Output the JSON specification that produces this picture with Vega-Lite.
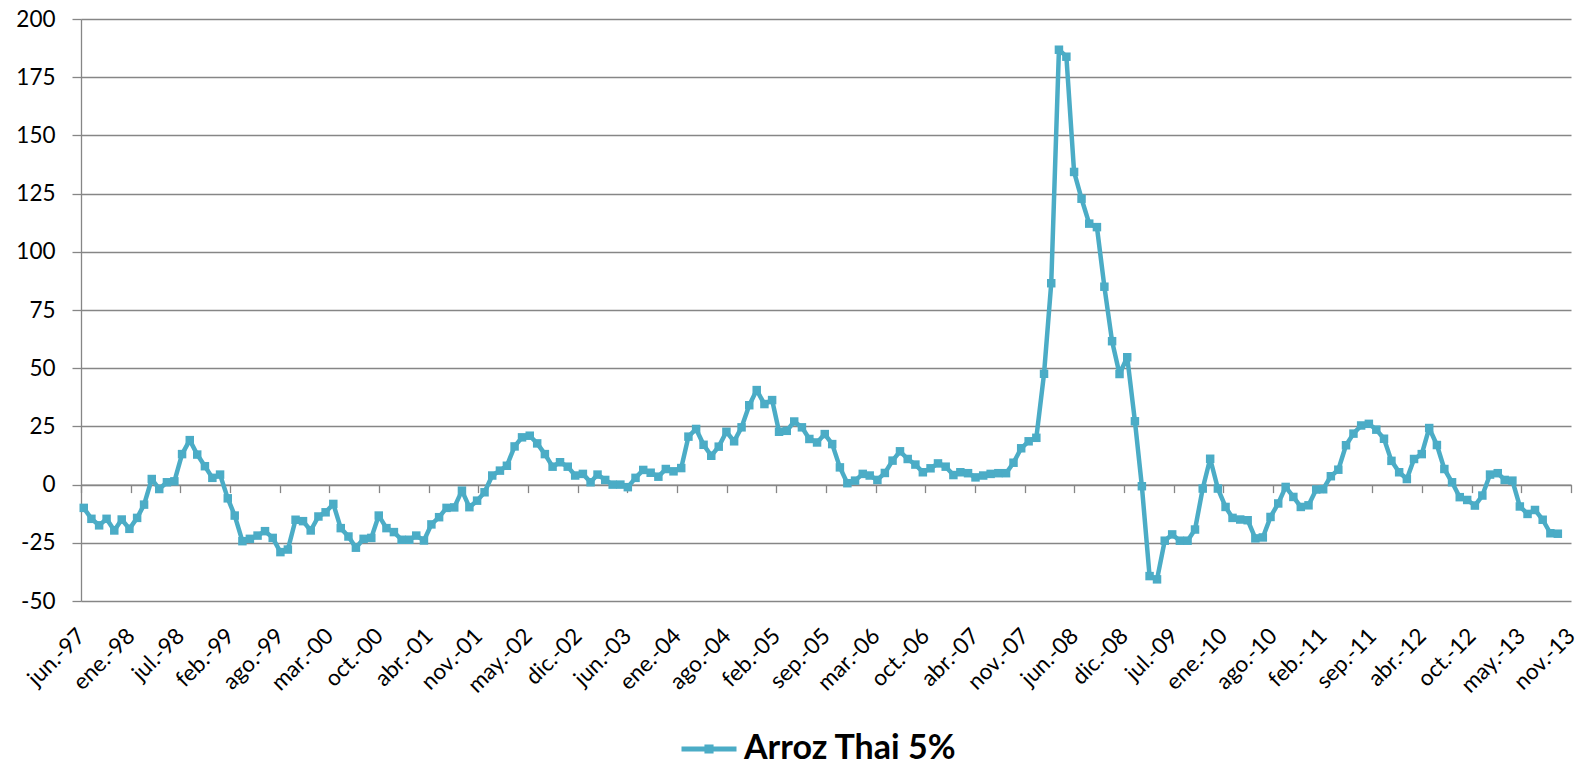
{
  "$schema": "https://vega.github.io/schema/vega-lite/v6.json",
  "width": 1490,
  "height": 582,
  "autosize": {"type": "none"},
  "padding": {"left": 81, "top": 19, "right": 14, "bottom": 168},
  "background": "white",
  "config": {"view": {"stroke": null}, "font": "Lato"},
  "data": {"values": [
    {"d":"1997-07-01","v":-10.0},{"d":"1997-08-01","v":-14.7},{"d":"1997-09-01","v":-17.5},{"d":"1997-10-01","v":-14.7},{"d":"1997-11-01","v":-19.7},{"d":"1997-12-01","v":-15.0},
    {"d":"1998-01-01","v":-19.0},{"d":"1998-02-01","v":-14.3},{"d":"1998-03-01","v":-8.6},{"d":"1998-04-01","v":2.4},{"d":"1998-05-01","v":-1.9},{"d":"1998-06-01","v":1.0},{"d":"1998-07-01","v":1.4},{"d":"1998-08-01","v":13.1},{"d":"1998-09-01","v":19.1},{"d":"1998-10-01","v":12.9},{"d":"1998-11-01","v":7.9},{"d":"1998-12-01","v":2.9},
    {"d":"1999-01-01","v":4.3},{"d":"1999-02-01","v":-5.9},{"d":"1999-03-01","v":-13.3},{"d":"1999-04-01","v":-24.3},{"d":"1999-05-01","v":-23.3},{"d":"1999-06-01","v":-21.9},{"d":"1999-07-01","v":-20.0},{"d":"1999-08-01","v":-22.9},{"d":"1999-09-01","v":-29.0},{"d":"1999-10-01","v":-27.9},{"d":"1999-11-01","v":-15.1},{"d":"1999-12-01","v":-15.7},
    {"d":"2000-01-01","v":-19.7},{"d":"2000-02-01","v":-13.7},{"d":"2000-03-01","v":-11.9},{"d":"2000-04-01","v":-8.3},{"d":"2000-05-01","v":-18.7},{"d":"2000-06-01","v":-22.3},{"d":"2000-07-01","v":-27.1},{"d":"2000-08-01","v":-23.3},{"d":"2000-09-01","v":-22.9},{"d":"2000-10-01","v":-13.3},{"d":"2000-11-01","v":-18.7},{"d":"2000-12-01","v":-20.4},
    {"d":"2001-01-01","v":-23.7},{"d":"2001-02-01","v":-23.7},{"d":"2001-03-01","v":-21.9},{"d":"2001-04-01","v":-24.0},{"d":"2001-05-01","v":-17.1},{"d":"2001-06-01","v":-14.0},{"d":"2001-07-01","v":-10.0},{"d":"2001-08-01","v":-9.8},{"d":"2001-09-01","v":-2.6},{"d":"2001-10-01","v":-9.7},{"d":"2001-11-01","v":-6.9},{"d":"2001-12-01","v":-3.3},
    {"d":"2002-01-01","v":3.9},{"d":"2002-02-01","v":6.0},{"d":"2002-03-01","v":8.1},{"d":"2002-04-01","v":16.4},{"d":"2002-05-01","v":20.3},{"d":"2002-06-01","v":21.0},{"d":"2002-07-01","v":17.7},{"d":"2002-08-01","v":13.1},{"d":"2002-09-01","v":7.7},{"d":"2002-10-01","v":9.6},{"d":"2002-11-01","v":7.7},{"d":"2002-12-01","v":3.9},
    {"d":"2003-01-01","v":4.6},{"d":"2003-02-01","v":1.0},{"d":"2003-03-01","v":4.3},{"d":"2003-04-01","v":2.0},{"d":"2003-05-01","v":0.0},{"d":"2003-06-01","v":0.0},{"d":"2003-07-01","v":-1.1},{"d":"2003-08-01","v":2.9},{"d":"2003-09-01","v":6.3},{"d":"2003-10-01","v":5.1},{"d":"2003-11-01","v":3.4},{"d":"2003-12-01","v":6.7},
    {"d":"2004-01-01","v":5.7},{"d":"2004-02-01","v":7.1},{"d":"2004-03-01","v":20.6},{"d":"2004-04-01","v":23.9},{"d":"2004-05-01","v":17.1},{"d":"2004-06-01","v":12.4},{"d":"2004-07-01","v":16.3},{"d":"2004-08-01","v":22.7},{"d":"2004-09-01","v":18.6},{"d":"2004-10-01","v":24.6},{"d":"2004-11-01","v":34.1},{"d":"2004-12-01","v":40.6},
    {"d":"2005-01-01","v":34.6},{"d":"2005-02-01","v":36.3},{"d":"2005-03-01","v":22.7},{"d":"2005-04-01","v":23.1},{"d":"2005-05-01","v":27.1},{"d":"2005-06-01","v":24.6},{"d":"2005-07-01","v":19.6},{"d":"2005-08-01","v":18.1},{"d":"2005-09-01","v":21.7},{"d":"2005-10-01","v":17.4},{"d":"2005-11-01","v":7.4},{"d":"2005-12-01","v":0.6},
    {"d":"2006-01-01","v":1.7},{"d":"2006-02-01","v":4.6},{"d":"2006-03-01","v":3.9},{"d":"2006-04-01","v":2.0},{"d":"2006-05-01","v":5.0},{"d":"2006-06-01","v":10.3},{"d":"2006-07-01","v":14.3},{"d":"2006-08-01","v":11.0},{"d":"2006-09-01","v":8.6},{"d":"2006-10-01","v":5.3},{"d":"2006-11-01","v":7.0},{"d":"2006-12-01","v":9.1},
    {"d":"2007-01-01","v":7.7},{"d":"2007-02-01","v":4.1},{"d":"2007-03-01","v":5.3},{"d":"2007-04-01","v":4.9},{"d":"2007-05-01","v":3.1},{"d":"2007-06-01","v":3.9},{"d":"2007-07-01","v":4.6},{"d":"2007-08-01","v":4.9},{"d":"2007-09-01","v":4.9},{"d":"2007-10-01","v":9.4},{"d":"2007-11-01","v":15.6},{"d":"2007-12-01","v":18.6},
    {"d":"2008-01-01","v":20.1},{"d":"2008-02-01","v":47.6},{"d":"2008-03-01","v":86.5},{"d":"2008-04-01","v":186.8},{"d":"2008-05-01","v":183.8},{"d":"2008-06-01","v":134.3},{"d":"2008-07-01","v":122.8},{"d":"2008-08-01","v":112.1},{"d":"2008-09-01","v":110.6},{"d":"2008-10-01","v":85.0},{"d":"2008-11-01","v":61.6},{"d":"2008-12-01","v":47.5},
    {"d":"2009-01-01","v":54.7},{"d":"2009-02-01","v":27.2},{"d":"2009-03-01","v":-0.7},{"d":"2009-04-01","v":-39.3},{"d":"2009-05-01","v":-40.7},{"d":"2009-06-01","v":-24.1},{"d":"2009-07-01","v":-21.4},{"d":"2009-08-01","v":-24.1},{"d":"2009-09-01","v":-24.1},{"d":"2009-10-01","v":-19.3},{"d":"2009-11-01","v":-1.7},{"d":"2009-12-01","v":11.1},
    {"d":"2010-01-01","v":-1.7},{"d":"2010-02-01","v":-9.6},{"d":"2010-03-01","v":-14.3},{"d":"2010-04-01","v":-15.0},{"d":"2010-05-01","v":-15.3},{"d":"2010-06-01","v":-23.1},{"d":"2010-07-01","v":-22.7},{"d":"2010-08-01","v":-13.9},{"d":"2010-09-01","v":-8.1},{"d":"2010-10-01","v":-1.0},{"d":"2010-11-01","v":-5.3},{"d":"2010-12-01","v":-9.6},
    {"d":"2011-01-01","v":-8.9},{"d":"2011-02-01","v":-2.1},{"d":"2011-03-01","v":-2.0},{"d":"2011-04-01","v":3.6},{"d":"2011-05-01","v":6.4},{"d":"2011-06-01","v":16.9},{"d":"2011-07-01","v":21.9},{"d":"2011-08-01","v":25.4},{"d":"2011-09-01","v":26.1},{"d":"2011-10-01","v":23.6},{"d":"2011-11-01","v":19.7},{"d":"2011-12-01","v":10.2},
    {"d":"2012-01-01","v":5.3},{"d":"2012-02-01","v":2.4},{"d":"2012-03-01","v":11.0},{"d":"2012-04-01","v":13.1},{"d":"2012-05-01","v":24.3},{"d":"2012-06-01","v":17.0},{"d":"2012-07-01","v":6.7},{"d":"2012-08-01","v":1.0},{"d":"2012-09-01","v":-5.4},{"d":"2012-10-01","v":-6.6},{"d":"2012-11-01","v":-9.0},{"d":"2012-12-01","v":-4.7},
    {"d":"2013-01-01","v":4.3},{"d":"2013-02-01","v":4.9},{"d":"2013-03-01","v":2.0},{"d":"2013-04-01","v":1.7},{"d":"2013-05-01","v":-9.4},{"d":"2013-06-01","v":-12.6},{"d":"2013-07-01","v":-10.9},{"d":"2013-08-01","v":-15.1},{"d":"2013-09-01","v":-20.9},{"d":"2013-10-01","v":-21.1}
  ]},
  "layer": [
    {
      "mark": {"type": "line", "strokeWidth": 4.5, "strokeJoin": "round", "point": {"shape": "square", "size": 72, "filled": true, "opacity": 1}},
      "encoding": {
        "x": {
          "field": "d", "type": "temporal",
          "scale": {"type": "utc", "domain": [866764800000, 1385164800000], "nice": false},
          "axis": {
            "orient": "bottom",
            "values": [866764800000,884044800000,901324800000,918604800000,935884800000,953164800000,970444800000,987724800000,1005004800000,1022284800000,1039564800000,1056844800000,1074124800000,1091404800000,1108684800000,1125964800000,1143244800000,1160524800000,1177804800000,1195084800000,1212364800000,1229644800000,1246924800000,1264204800000,1281484800000,1298764800000,1316044800000,1333324800000,1350604800000,1367884800000,1385164800000],
            "labelExpr": "['ene','feb','mar','abr','may','jun','jul','ago','sep','oct','nov','dic'][utcmonth(datum.value)] + '.-' + utcFormat(datum.value, '%y')",
            "labelAngle": -45, "labelAlign": "right", "labelBaseline": "middle",
            "labelPadding": 31, "labelFont": "Lato", "labelFontSize": 22.5, "labelColor": "#000000",
            "labelOverlap": false, "labelBound": false, "labelFlush": false,
            "ticks": false, "domain": false, "grid": false, "title": null
          }
        },
        "y": {
          "field": "v", "type": "quantitative",
          "scale": {"domain": [-50, 200], "nice": false, "zero": false},
          "axis": {
            "values": [-50,-25,0,25,50,75,100,125,150,175,200],
            "labelExpr": "'' + datum.value",
            "grid": true, "gridColor": "#868686", "gridWidth": 1.3,
            "domain": true, "domainColor": "#868686", "domainWidth": 1.3,
            "ticks": true, "tickColor": "#868686", "tickWidth": 1.3, "tickSize": 9,
            "labelPadding": 17, "labelFont": "Lato", "labelFontSize": 22.5, "labelColor": "#000000",
            "title": null
          }
        },
        "color": {
          "datum": "Arroz Thai 5%",
          "scale": {"range": ["#4BACC6"]},
          "legend": {
            "orient": "none", "legendX": 598, "legendY": 700, "title": null, "padding": 0,
            "symbolType": "M-1,0H1M-0.075,-0.075H0.075V0.075H-0.075Z",
            "symbolSize": 3025, "symbolStrokeWidth": 5,
            "symbolStrokeColor": "#4BACC6", "symbolFillColor": "#4BACC6",
            "labelFont": "Lato", "labelFontSize": 34, "labelFontWeight": "bold", "labelColor": "#000000",
            "labelOffset": 5, "labelLimit": 500
          }
        }
      }
    },
    {
      "mark": {"type": "point", "opacity": 0},
      "encoding": {
        "x": {
          "field": "d", "type": "temporal",
          "scale": {"type": "utc", "domain": [866764800000, 1385164800000], "nice": false},
          "axis": {
            "orient": "bottom",
            "values": [866764800000,884044800000,901324800000,918604800000,935884800000,953164800000,970444800000,987724800000,1005004800000,1022284800000,1039564800000,1056844800000,1074124800000,1091404800000,1108684800000,1125964800000,1143244800000,1160524800000,1177804800000,1195084800000,1212364800000,1229644800000,1246924800000,1264204800000,1281484800000,1298764800000,1316044800000,1333324800000,1350604800000,1367884800000,1385164800000],
            "labels": false, "ticks": true, "tickSize": 8, "tickColor": "#868686", "tickWidth": 1.3,
            "domain": true, "domainColor": "#868686", "domainWidth": 1.3,
            "grid": false, "offset": -116.4, "title": null
          }
        },
        "y": {"field": "v", "type": "quantitative", "scale": {"domain": [-50, 200], "nice": false, "zero": false}}
      }
    }
  ],
  "resolve": {"axis": {"x": "independent"}}
}
